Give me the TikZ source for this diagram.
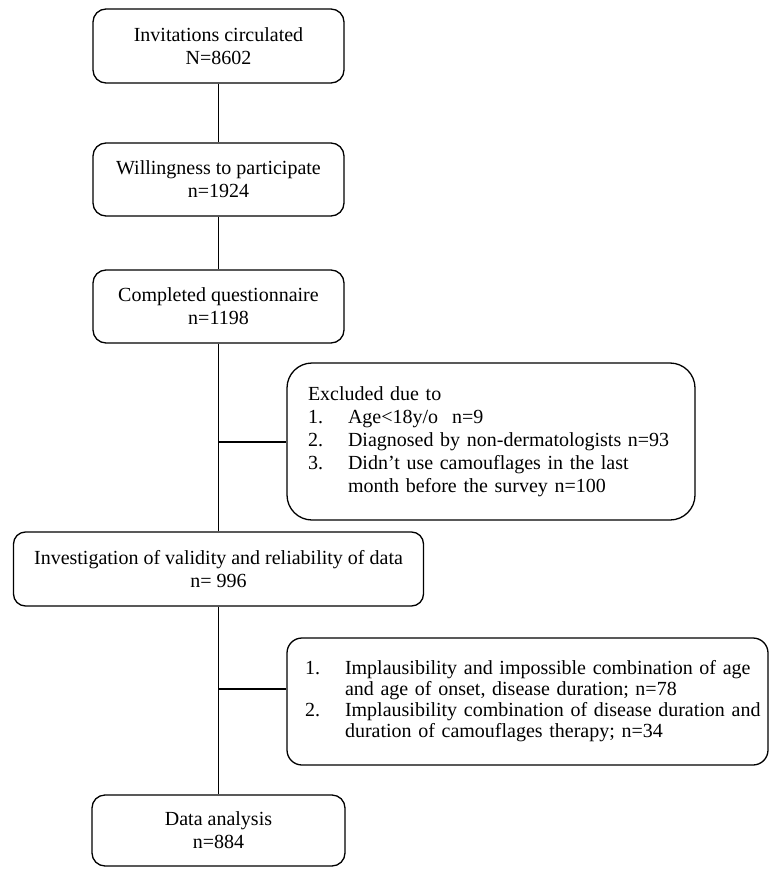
\documentclass[tikz,border=0pt]{standalone}
\usepackage{fontspec}
\setmainfont{Liberation Serif}
\usepackage{array}
\begin{document}
\begin{tikzpicture}[x=1pt,y=1pt,
  every node/.style={font=\fontsize{20}{23}\selectfont},
  box/.style={draw, line width=1.3pt, rounded corners=13pt, align=center, inner sep=0pt},
  listbox/.style={draw, line width=1.3pt, align=left, inner ysep=0pt},
  link/.style={line width=1.3pt}]
\useasboundingbox (0,0) rectangle (769,-869);

\node[box, minimum width=251pt, minimum height=74pt] (b1) at (218.5,-46) {Invitations circulated\\N=8602};
\node[box, minimum width=251pt, minimum height=73pt] (b2) at (218.5,-179.5) {Willingness to participate\\n=1924};
\node[box, minimum width=251pt, minimum height=73pt] (b3) at (218.5,-306.5) {Completed questionnaire\\n=1198};
\node[box, rounded corners=12pt, minimum width=410pt, minimum height=74pt] (b4) at (218.5,-569) {Investigation of validity and reliability of data\\n= 996};
\node[box, minimum width=253pt, minimum height=71pt] (b5) at (218.5,-830.5) {Data analysis\\n=884};

\node[listbox, rounded corners=25pt, inner xsep=21pt, text width=366pt, minimum height=157pt] (ex1) at (491,-441.5)
 {\begin{tabular}{@{}p{40pt}@{}l@{}}
  \multicolumn{2}{@{}l@{}}{Excluded due to}\\
  1. & Age<18y/o\hspace{14pt}n=9\\
  2. & Diagnosed by non-dermatologists n=93\\
  3. & Didn’t use camouflages in the last\\
     & month before the survey n=100
  \end{tabular}};

\node[listbox, rounded corners=15pt, inner xsep=18pt, text width=445pt, minimum height=127pt,
      font=\fontsize{20}{21}\selectfont] (ex2) at (527.5,-701.5)
 {\begin{tabular}{@{}p{40pt}@{}l@{}}
  1. & Implausibility and impossible combination of age\\
     & and age of onset, disease duration; n=78\\
  2. & Implausibility combination of disease duration and\\
     & duration of camouflages therapy; n=34
  \end{tabular}};

\coordinate (j1) at (218.5,-442);
\coordinate (j2) at (218.5,-689);

\draw[link] (b1) -- (b2);
\draw[link] (b2) -- (b3);
\draw[link] (b3) -- (b4);
\draw[link] (b4) -- (b5);
\draw[link] (j1) -- (j1 -| ex1.west);
\draw[link] (j2) -- (j2 -| ex2.west);
\end{tikzpicture}
\end{document}
